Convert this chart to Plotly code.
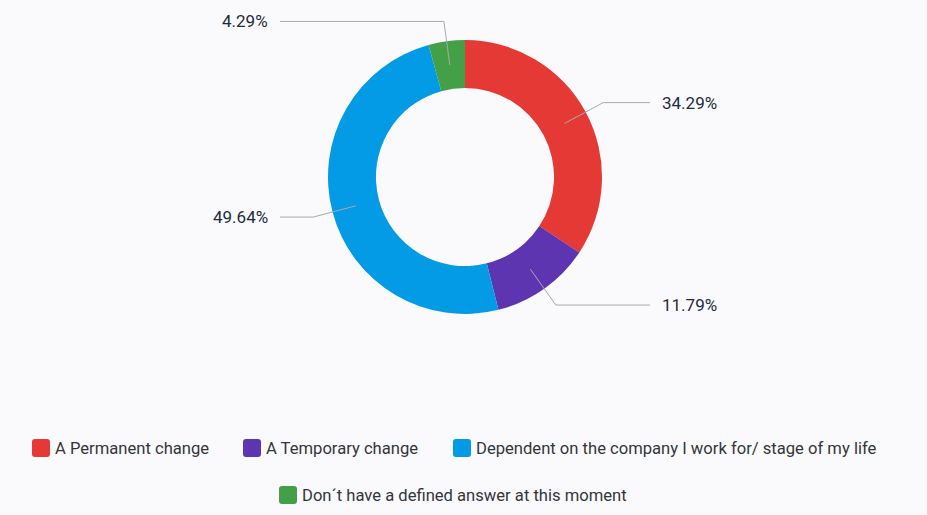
import math
import plotly.graph_objects as go

# Survey answers and their shares (%)
categories = [
    "A Permanent change",
    "A Temporary change",
    "Dependent on the company I work for/ stage of my life",
    "Don´t have a defined answer at this moment",
]
shares = [34.29, 11.79, 49.64, 4.29]
colors = ["#e53935", "#5e35b1", "#039be5", "#43a047"]

W, H = 927, 515
BG = "#fafafc"
TEXT = "#32363a"
FONT = "Roboto, Liberation Sans, Arial, sans-serif"

# Donut geometry in pixels
cx, cy, R = 465, 177, 137
HOLE = 0.65


def px(x):
    return x / W


def py(y):
    return 1 - y / H


fig = go.Figure()
fig.add_trace(go.Pie(
    labels=categories,
    values=shares,
    marker=dict(colors=colors, line=dict(width=0)),
    hole=HOLE,
    sort=False,
    direction="clockwise",
    rotation=0,
    textinfo="none",
    hoverinfo="label+percent",
    showlegend=False,
    domain=dict(x=[px(cx - R), px(cx + R)], y=[py(cy + R), py(cy - R)]),
))

# Leader lines and value labels, placed at each slice's mid-angle
total = sum(shares)
r_mid = R * (1 + HOLE) / 2
r_elbow = R + 20
x_line = 185
x_text = 195
shapes = []
annotations = []
cum = 0.0
for v in shares:
    mid = (cum + v / 2) / total * 2 * math.pi
    cum += v
    sx, sy = cx + r_mid * math.sin(mid), cy - r_mid * math.cos(mid)
    ex, ey = cx + r_elbow * math.sin(mid), cy - r_elbow * math.cos(mid)
    right = math.sin(mid) >= 0
    lx = cx + x_line if right else cx - x_line
    tx = cx + x_text if right else cx - x_text
    path = f"M {px(sx)},{py(sy)} L {px(ex)},{py(ey)} L {px(lx)},{py(ey)}"
    shapes.append(dict(type="path", path=path, xref="paper", yref="paper",
                       line=dict(color="#a9a9ad", width=1)))
    annotations.append(dict(
        x=px(tx), y=py(ey), xref="paper", yref="paper",
        text=f"{v:.2f}%", showarrow=False,
        xanchor="left" if right else "right", yanchor="middle",
        font=dict(family=FONT, size=17, color="#1d2d3e"),
    ))

# Legend: rounded colour squares with category names, two rows
legend_slots = [(32, 448), (243, 448), (453, 448), (279, 495)]
SQ = 18
RAD = 3
for name, col, (lx0, ly) in zip(categories, colors, legend_slots):
    x0, x1 = lx0, lx0 + SQ
    y0, y1 = ly - SQ / 2, ly + SQ / 2
    p = (
        f"M {px(x0 + RAD)},{py(y0)} L {px(x1 - RAD)},{py(y0)} "
        f"Q {px(x1)},{py(y0)} {px(x1)},{py(y0 + RAD)} "
        f"L {px(x1)},{py(y1 - RAD)} Q {px(x1)},{py(y1)} {px(x1 - RAD)},{py(y1)} "
        f"L {px(x0 + RAD)},{py(y1)} Q {px(x0)},{py(y1)} {px(x0)},{py(y1 - RAD)} "
        f"L {px(x0)},{py(y0 + RAD)} Q {px(x0)},{py(y0)} {px(x0 + RAD)},{py(y0)} Z"
    )
    shapes.append(dict(type="path", path=p, xref="paper", yref="paper",
                       fillcolor=col, line=dict(width=0)))
    annotations.append(dict(
        x=px(x1 + 3), y=py(ly), xref="paper", yref="paper",
        text=name, showarrow=False, xanchor="left", yanchor="middle",
        font=dict(family=FONT, size=16.6, color=TEXT),
    ))

fig.update_layout(
    width=W, height=H, autosize=False,
    margin=dict(l=0, r=0, t=0, b=0),
    paper_bgcolor=BG, plot_bgcolor=BG,
    shapes=shapes, annotations=annotations,
    font=dict(family=FONT, color=TEXT),
)

fig.write_html("out.html")
